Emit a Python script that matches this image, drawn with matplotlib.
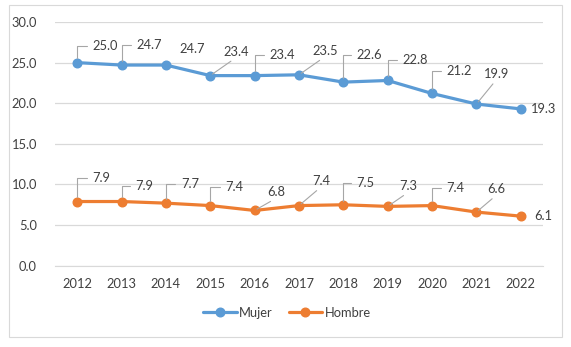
import matplotlib
matplotlib.use("Agg")
import matplotlib.pyplot as plt
from matplotlib.patches import Rectangle

years = ["2012", "2013", "2014", "2015", "2016", "2017", "2018", "2019", "2020", "2021", "2022"]
mujer = [25.0, 24.7, 24.7, 23.4, 23.4, 23.5, 22.6, 22.8, 21.2, 19.9, 19.3]
hombre = [7.9, 7.9, 7.7, 7.4, 6.8, 7.4, 7.5, 7.3, 7.4, 6.6, 6.1]
yticks = [0, 5, 10, 15, 20, 25, 30]

# label placement (pixel offsets from point to label left-middle) and leader style
mujer_off = [(15, 16.5), (15, 20), (14, 16), (13, 24), (15, 21), (13, 24), (13, 27), (15, 20), (14, 22), (7, 30), (10, 0)]
mujer_lead = ["b", "b", "n", "d", "b", "d", "b", "b", "b", "d", "n"]
hombre_off = [(15, 23.5), (14, 15.5), (15, 19), (15, 18.6), (13, 18.5), (13, 24.6), (13, 21.8), (12, 20.4), (14, 17.6), (11, 23), (13, 0)]
hombre_lead = ["b", "b", "b", "b", "d", "d", "b", "d", "b", "d", "n"]

FONT = "Lato"
TXT = "#404040"
BLUE = "#5B9BD5"
ORANGE = "#ED7D31"
plt.rcParams["font.family"] = [FONT, "DejaVu Sans"]

fig = plt.figure(figsize=(5.71, 3.47), dpi=100)
fig.patches.append(Rectangle((9 / 571, 10 / 347), 553 / 571, 332 / 347, transform=fig.transFigure,
                             fill=False, edgecolor="#D9D9D9", linewidth=0.8))
ax = fig.add_axes([55 / 571, 81.3 / 347, 488 / 571, 243.7 / 347])

x = list(range(len(years)))
ax.plot(x, mujer, color=BLUE, lw=2.3, marker="o", ms=6.2, label="Mujer", zorder=3, solid_capstyle="round")
ax.plot(x, hombre, color=ORANGE, lw=2.3, marker="o", ms=6.2, label="Hombre", zorder=3, solid_capstyle="round")

ax.set_xlim(-0.5, len(years) - 0.5)
ax.set_ylim(0, 30)
ax.set_yticks(yticks)
ax.set_yticklabels([f"{v:.1f}" for v in yticks])
ax.set_xticks(x)
ax.set_xticklabels(years)
ax.grid(axis="y", color="#D9D9D9", lw=0.9)
ax.set_axisbelow(True)
for s in ["top", "right", "left"]:
    ax.spines[s].set_visible(False)
ax.spines["bottom"].set_color("#D9D9D9")
ax.tick_params(axis="both", length=0, labelsize=9.3, labelcolor=TXT)
ax.tick_params(axis="y", pad=13)
ax.tick_params(axis="x", pad=9)


def add_labels(vals, offs, leads):
    for i, (v, (dx, dy), ld) in enumerate(zip(vals, offs, leads)):
        kw = {}
        if ld == "b":
            kw["arrowprops"] = dict(arrowstyle="-", color="#A6A6A6", lw=0.8,
                                    connectionstyle="angle,angleA=0,angleB=90,rad=0",
                                    relpos=(0, 0.5), shrinkA=2, shrinkB=3)
        elif ld == "d":
            kw["arrowprops"] = dict(arrowstyle="-", color="#A6A6A6", lw=0.8,
                                    relpos=(0.5, 0), shrinkA=1, shrinkB=2)
        ax.annotate(f"{v:.1f}", xy=(i, v), xytext=(dx, dy), textcoords="offset pixels",
                    ha="left", va="center", fontsize=9.3, color=TXT, zorder=4, **kw)


add_labels(mujer, mujer_off, mujer_lead)
add_labels(hombre, hombre_off, hombre_lead)

fig.legend(loc="center", bbox_to_anchor=(287 / 571, 34 / 347), ncol=2, frameon=False,
           fontsize=9.3, labelcolor=TXT, handlelength=2.6, handletextpad=0.2, columnspacing=1.2)

fig.savefig("out.png", dpi=100)
